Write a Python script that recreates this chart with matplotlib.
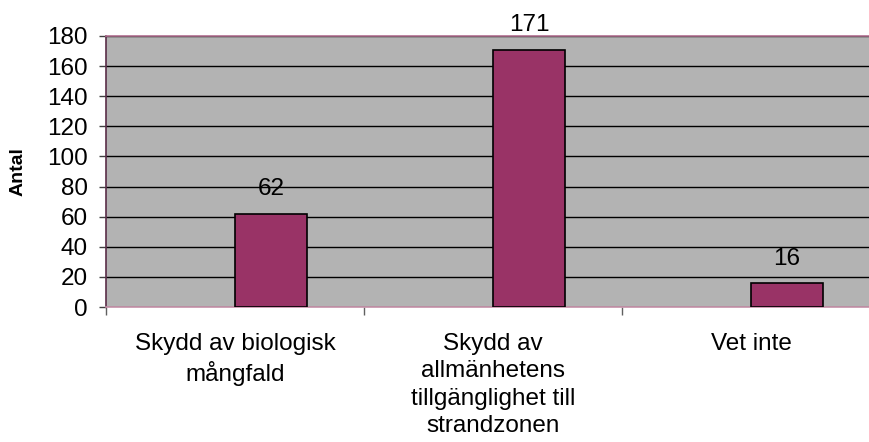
import matplotlib.pyplot as plt

categories = ["Skydd av biologisk\nmångfald",
              "Skydd av\nallmänhetens\ntillgänglighet till\nstrandzonen",
              "Vet inte"]
counts = [62, 171, 16]
y_ticks = [0, 20, 40, 60, 80, 100, 120, 140, 160, 180]

plt.rcParams['font.family'] = ['Liberation Sans', 'DejaVu Sans']

fig = plt.figure(figsize=(8.7, 4.42), dpi=100)
# plot area runs past the right edge of the figure
ax = fig.add_axes([106 / 870, 135 / 442, 774 / 870, 271 / 442])
ax.set_facecolor('#b3b3b3')

bar_w = 0.28
xs = [i + bar_w / 2 for i in range(len(counts))]
ax.bar(xs, counts, width=bar_w, color='#993366', edgecolor='black',
       linewidth=1.2, zorder=3)

for x, v in zip(xs, counts):
    ax.annotate(str(v), (x, v), xytext=(0, 9.5), textcoords='offset points',
                ha='center', va='bottom', fontsize=17.5, color='black')

ax.set_xlim(-0.5, len(categories) - 0.5)
ax.set_ylim(0, 180)
ax.set_yticks(y_ticks)
ax.tick_params(axis='y', labelsize=17.5, length=5, width=1, color='#404040',
               pad=8, direction='out')
ax.yaxis.grid(True, color='black', linewidth=1, zorder=1)
ax.set_axisbelow(True)

# category ticks sit between groups, labels sit at the group centres
ax.set_xticks([i - 0.5 for i in range(len(categories) + 1)])
ax.set_xticklabels([])
ax.set_xticks(range(len(categories)), minor=True)
ax.set_xticklabels(categories, minor=True, fontsize=17.5, linespacing=1.3)
ax.tick_params(axis='x', which='minor', length=0, pad=19)
ax.tick_params(axis='x', which='major', length=6, width=1, color='#606060',
               direction='out')

ax.set_ylabel('Antal', fontsize=14, fontweight='bold', labelpad=15)

ax.spines['left'].set_color('#5a2d48')
ax.spines['top'].set_color('#b07090')
ax.spines['bottom'].set_color('#c590a8')
ax.spines['right'].set_visible(False)
for s in ax.spines.values():
    s.set_linewidth(1.2)

fig.savefig('out.png', dpi=100)
